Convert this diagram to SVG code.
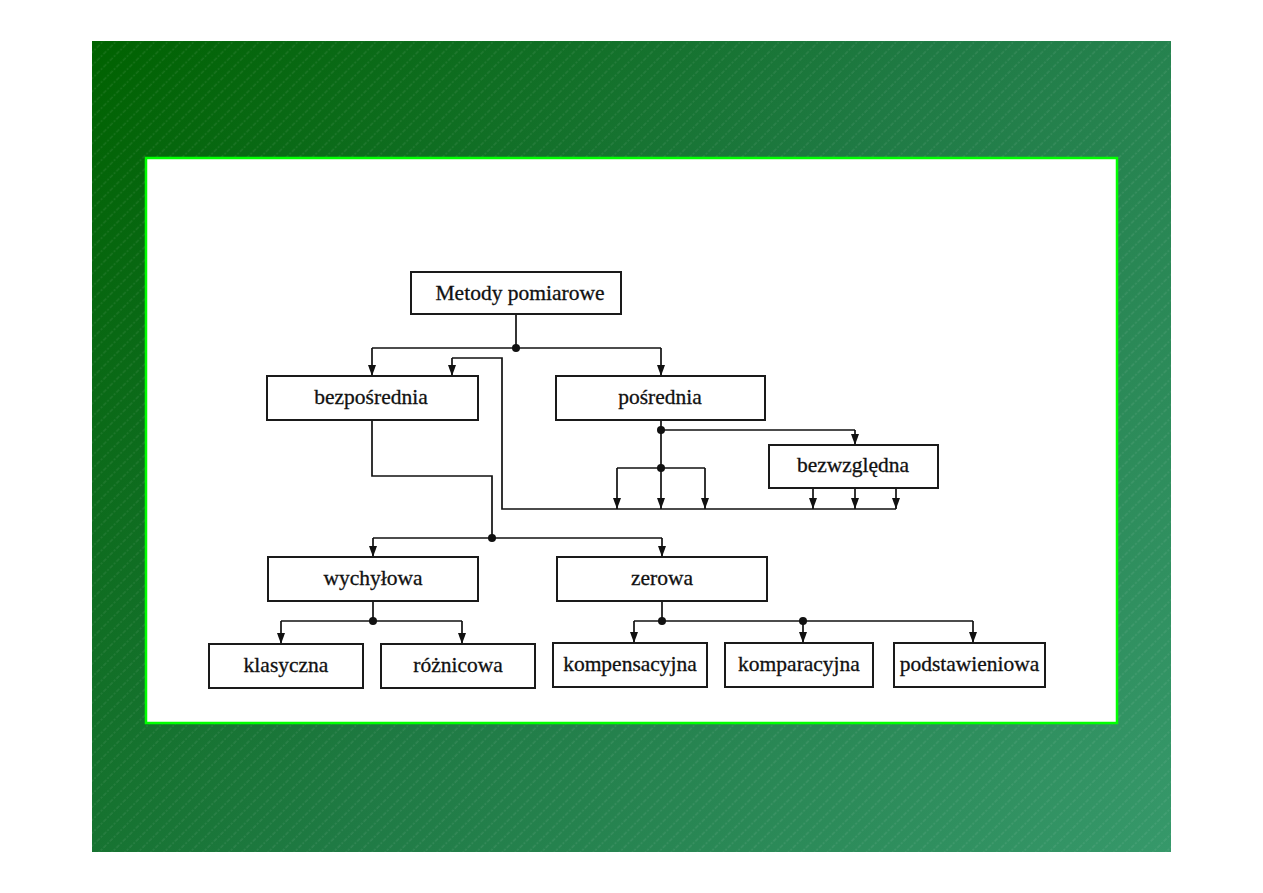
<svg xmlns="http://www.w3.org/2000/svg" width="1263" height="893" viewBox="0 0 1263 893">
<defs>
  <linearGradient id="bg" x1="92" y1="41" x2="1171" y2="852" gradientUnits="userSpaceOnUse">
    <stop offset="0" stop-color="#006200"/>
    <stop offset="0.5" stop-color="#1f7a44"/>
    <stop offset="1" stop-color="#36986a"/>
  </linearGradient>
  <pattern id="stripes" width="9.2" height="9.2" patternUnits="userSpaceOnUse" patternTransform="rotate(45)">
    <line x1="1" y1="0" x2="1" y2="9.2" stroke="#ffffff" stroke-opacity="0.18" stroke-width="0.7" stroke-dasharray="2 1.6"/>
  </pattern>
  <marker id="arr" markerWidth="8" markerHeight="11" refX="4" refY="11" orient="0" markerUnits="userSpaceOnUse">
    <path d="M0,0 L8,0 L4,11 z" fill="#111"/>
  </marker>
  <style>
    .box { fill: #ffffff; stroke: #1a1a1a; stroke-width: 2; }
    .lbl { font-family: "Liberation Serif", "Times New Roman", serif; font-size: 21.5px; fill: #111; stroke: #111; stroke-width: 0.3; text-anchor: middle; }
    .ln { fill: none; stroke: #111; stroke-width: 1.7; }
    .ar { fill: none; stroke: #111; stroke-width: 1.7; marker-end: url(#arr); }
    .dot { fill: #111; }
  </style>
</defs>

<rect x="92" y="41" width="1079" height="811" fill="url(#bg)"/>
<rect x="92" y="41" width="1079" height="811" fill="url(#stripes)"/>
<rect x="146" y="158" width="971" height="565" fill="#ffffff" stroke="#00ff00" stroke-width="2.5"/>

<g id="connectors">
  <path class="ln" d="M516,314 V348"/>
  <path class="ln" d="M372,348 H661"/>
  <path class="ar" d="M372,348 V376"/>
  <path class="ar" d="M661,348 V376"/>
  <circle class="dot" cx="516" cy="348" r="4"/>
  <path class="ln" d="M896,509 H502 V358 H452"/>
  <path class="ar" d="M452,358 V376"/>
  <path class="ar" d="M661,420 V509"/>
  <path class="ln" d="M661,430 H855"/>
  <path class="ar" d="M855,430 V445"/>
  <path class="ln" d="M617,468 H705"/>
  <path class="ar" d="M617,468 V509"/>
  <path class="ar" d="M705,468 V509"/>
  <circle class="dot" cx="661" cy="430" r="4"/>
  <circle class="dot" cx="661" cy="468" r="4"/>
  <path class="ar" d="M813,488 V509"/>
  <path class="ar" d="M855,488 V509"/>
  <path class="ar" d="M896,488 V509"/>
  <path class="ln" d="M372,420 V476 H492 V538"/>
  <path class="ln" d="M373,538 H662"/>
  <path class="ar" d="M373,538 V557"/>
  <path class="ar" d="M662,538 V557"/>
  <circle class="dot" cx="492" cy="538" r="4"/>
  <path class="ln" d="M373,601 V621"/>
  <path class="ln" d="M281,621 H462"/>
  <path class="ar" d="M281,621 V644"/>
  <path class="ar" d="M462,621 V644"/>
  <circle class="dot" cx="373" cy="621" r="4"/>
  <path class="ln" d="M662,601 V621"/>
  <path class="ln" d="M634,621 H973"/>
  <path class="ar" d="M634,621 V643"/>
  <path class="ar" d="M803,621 V643"/>
  <path class="ar" d="M973,621 V643"/>
  <circle class="dot" cx="662" cy="621" r="4"/>
  <circle class="dot" cx="803" cy="621" r="4"/>
</g>

<g id="n-metody"><rect class="box" x="411" y="272" width="210" height="42"/><text class="lbl" x="520" y="300">Metody pomiarowe</text></g>
<g id="n-bezposrednia"><rect class="box" x="267" y="376" width="211" height="44"/><text class="lbl" x="371" y="404">bezpośrednia</text></g>
<g id="n-posrednia"><rect class="box" x="556" y="376" width="209" height="44"/><text class="lbl" x="660" y="404">pośrednia</text></g>
<g id="n-bezwzgledna"><rect class="box" x="769" y="445" width="169" height="43"/><text class="lbl" x="853" y="472">bezwzględna</text></g>
<g id="n-wychylowa"><rect class="box" x="268" y="557" width="210" height="44"/><text class="lbl" x="373" y="585">wychyłowa</text></g>
<g id="n-zerowa"><rect class="box" x="557" y="557" width="210" height="44"/><text class="lbl" x="662" y="585">zerowa</text></g>
<g id="n-klasyczna"><rect class="box" x="209" y="644" width="154" height="44"/><text class="lbl" x="286" y="672">klasyczna</text></g>
<g id="n-roznicowa"><rect class="box" x="381" y="644" width="154" height="44"/><text class="lbl" x="458" y="672">różnicowa</text></g>
<g id="n-kompensacyjna"><rect class="box" x="553" y="643" width="154" height="44"/><text class="lbl" x="630" y="671">kompensacyjna</text></g>
<g id="n-komparacyjna"><rect class="box" x="725" y="643" width="148" height="44"/><text class="lbl" x="799" y="671">komparacyjna</text></g>
<g id="n-podstawieniowa"><rect class="box" x="894" y="643" width="151" height="44"/><text class="lbl" x="969.5" y="671">podstawieniowa</text></g>
</svg>
